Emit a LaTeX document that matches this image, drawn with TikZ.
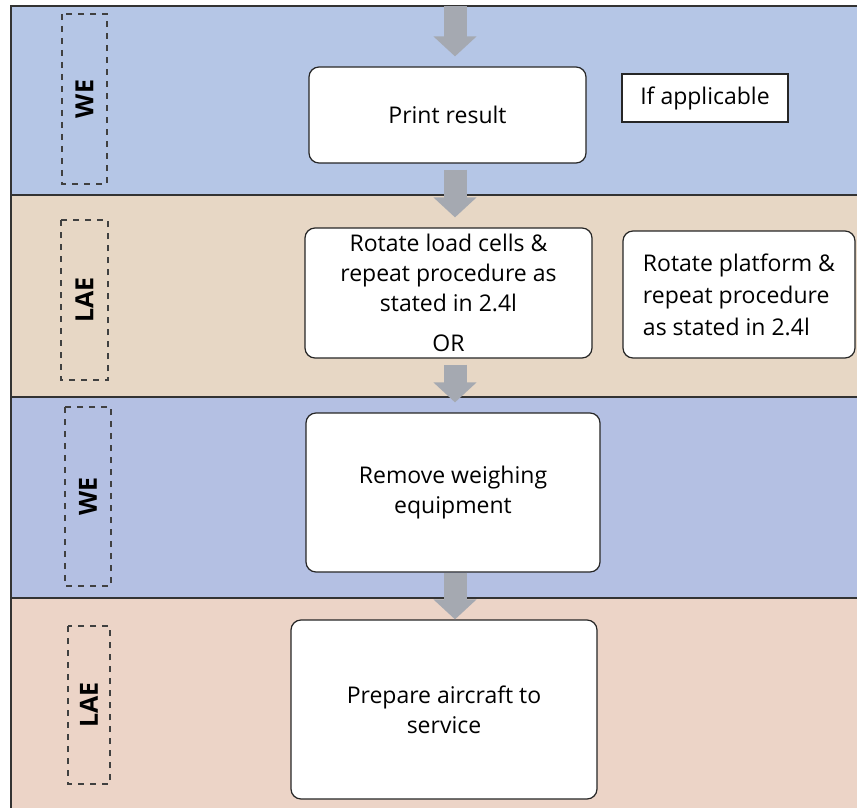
\documentclass[tikz,border=0pt]{standalone}
\usepackage{fontspec}
\setmainfont{Open Sans}
\usetikzlibrary{arrows.meta,calc}
\definecolor{laneblue}{RGB}{181,198,230}
\definecolor{lanetan}{RGB}{231,215,197}
\definecolor{lanepink}{RGB}{236,212,199}
\definecolor{arrowgray}{RGB}{165,169,177}
\tikzstyle{lane}=[draw=black!80, line width=0.8pt]
\tikzstyle{stepbox}=[rectangle, rounded corners=5pt, fill=white, draw=black!85, line width=0.6pt, align=center, inner sep=0pt, font=\fontsize{11.5}{15}\selectfont]
\tikzstyle{note}=[rectangle, fill=white, draw=black!85, line width=0.6pt, inner sep=0pt, font=\fontsize{11.5}{15}\selectfont]
\tikzstyle{role}=[rectangle, draw=black!75, dashed, line width=0.6pt, inner sep=0pt, rotate=90, font=\fontsize{12.5}{14}\selectfont\bfseries]
\tikzstyle{flow}=[draw=arrowgray, line width=11.5pt, -{Triangle[width=21pt,length=10pt]}, shorten >=5pt, shorten <=3pt]

\begin{document}
\begin{tikzpicture}[x=0.5pt, y=-0.5pt]
	\useasboundingbox (0,0) rectangle (857,808);

	% swim lanes
	\fill[laneblue] (11,6) rectangle (857,195);
	\fill[lanetan] (11,195) rectangle (857,397);
	\fill[laneblue!97!violet] (11,397) rectangle (857,598);
	\fill[lanepink] (11,598) rectangle (857,808);
	\draw[lane] (11,808) -- (11,6) -- (857,6);
	\draw[lane] (11,195) -- (857,195);
	\draw[lane] (11,397) -- (857,397);
	\draw[lane] (11,598) -- (857,598);

	% who does it
	\node[role, minimum width=85pt, minimum height=22.5pt] (we1) at (84.5,99) {WE};
	\node[role, minimum width=80pt, minimum height=23.5pt] (lae1) at (84.5,300) {LAE};
	\node[role, minimum width=89.5pt, minimum height=23pt] (we2) at (88,496.5) {WE};
	\node[role, minimum width=79pt, minimum height=21pt] (lae2) at (89,705) {LAE};

	% steps
	\node[stepbox, minimum width=138.5pt, minimum height=48pt] (print) at (447.5,115) {Print result};
	\node[note, minimum width=83pt, minimum height=24pt] (ifapp) at (705,98) {If applicable};
	\node[stepbox, minimum width=143.5pt, minimum height=65pt] (rotload) at (448.5,293) {Rotate load cells \&\\repeat procedure as\\stated in 2.4l\\[5pt]OR};
	\node[stepbox, minimum width=116pt, minimum height=63.5pt, align=left, font=\fontsize{11.5}{16}\selectfont] (rotplat) at (739,294.5) {Rotate platform \&\\repeat procedure\\as stated in 2.4l};
	\node[stepbox, minimum width=147pt, minimum height=79.5pt] (remove) at (453,492.5) {Remove weighing\\equipment};
	\node[stepbox, minimum width=153pt, minimum height=89.5pt] (prepare) at (444,709.5) {Prepare aircraft to\\service};

	% flow
	\coordinate (top) at (455,6);
	\draw[flow, shorten <=0pt] (top) -- (print.north -| top);
	\draw[flow] (print.south -| top) -- (rotload.north -| top);
	\draw[flow] (rotload.south -| top) -- (remove.north -| top);
	\draw[flow, shorten <=0pt, shorten >=0pt] (remove.south -| top) -- (prepare.north -| top);

\end{tikzpicture}
\end{document}
